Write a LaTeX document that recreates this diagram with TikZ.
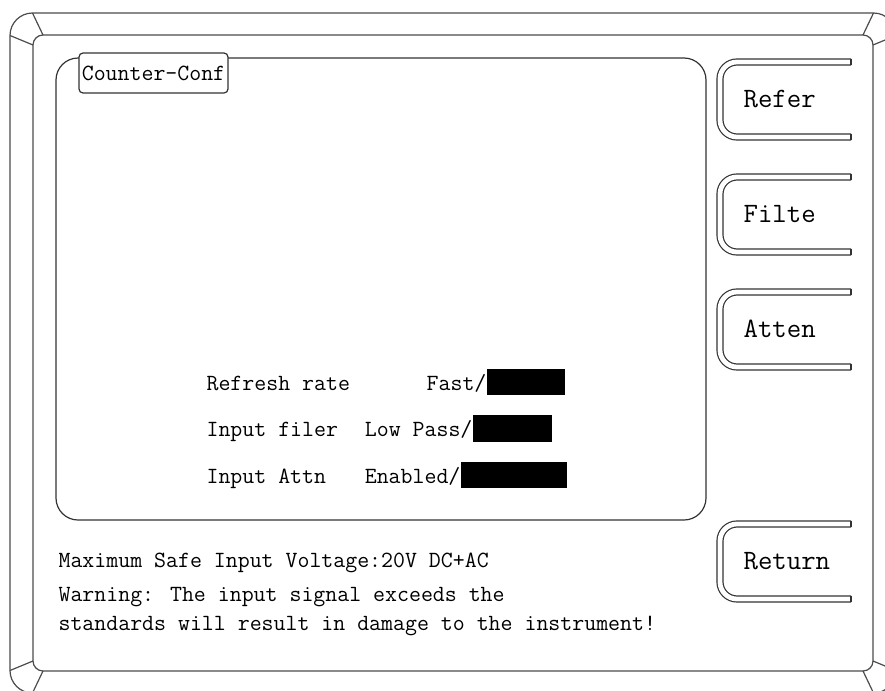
\documentclass[tikz,border=0pt]{standalone}
\usepackage{fontspec}
\tikzset{
    bezel/.style={draw=black!70, line width=0.6pt},
    body/.style={inner sep=0pt, font=\fontsize{11.6}{14}\selectfont\ttfamily},
    keytext/.style={inner sep=0pt, font=\fontsize{14}{17}\selectfont\ttfamily},
    softkey/.style={draw=black!80, line width=0.6pt, double=white, double distance=2.4pt, rounded corners=8.5pt},
}
\begin{document}
\begin{tikzpicture}[x=0.5pt, y=-0.5pt, line width=0.6pt]
    \useasboundingbox (0,0) rectangle (885,691);
    \clip (0,0) rectangle (885,691);

    % bezel: outer and inner outline, corner bevels
    \draw[bezel, rounded corners=11.25pt] (10,13) rectangle (896,693);
    \draw[bezel, rounded corners=5pt] (33,35) rectangle (873,671);
    \draw[bezel] (32.5,13) -- (43,35)   (10,35.5) -- (33,45);
    \draw[bezel] (873.5,13) -- (863,35) (896,35.5) -- (873,45);
    \draw[bezel] (10,670.5) -- (33,661) (32.5,693) -- (43,671);
    \draw[bezel] (896,670.5) -- (873,661) (873.5,693) -- (863,671);

    % counter configuration panel
    \draw[black!80, rounded corners=11pt] (56,58) rectangle (706,520);
    \node[body, draw=black!80, fill=white, rounded corners=2pt,
          minimum width=74.5pt, minimum height=20pt] (title) at (153.5,73) {Counter-Conf};

    \node[body, anchor=base west] (rate-lbl) at (206,390) {Refresh rate};
    \node[body, anchor=base east] (rate-val) at (487,390) {Fast/};
    \fill (487,369) rectangle (565,395);

    \node[body, anchor=base west] (filt-lbl) at (206,436) {Input filer};
    \node[body, anchor=base east] (filt-val) at (473,436) {Low Pass/};
    \fill (473,415) rectangle (552,442);

    \node[body, anchor=base west] (attn-lbl) at (206,483) {Input Attn};
    \node[body, anchor=base east] (attn-val) at (461,483) {Enabled/};
    \fill (461,462) rectangle (567,488);

    % warning text
    \node[body, anchor=base west] (maxv) at (58,567) {Maximum Safe Input Voltage:20V DC+AC};
    \node[body, anchor=base west] (warn1) at (58,601.5) {Warning: The input signal exceeds the};
    \node[body, anchor=base west] (warn2) at (58,630) {standards will result in damage to the instrument!};

    % soft keys
    \foreach \ty/\lbl in {59/Refer, 174/Filte, 289/Atten, 521/Return} {
        \draw[softkey] (851,\ty+3) -- (720,\ty+3) -- (720,\ty+78) -- (851,\ty+78);
        \draw[black!80] (851,\ty) -- (851,\ty+6) (851,\ty+75) -- (851,\ty+81);
        \node[keytext, anchor=west] (key-\lbl) at (743,\ty+40) {\lbl};
    }
\end{tikzpicture}
\end{document}
